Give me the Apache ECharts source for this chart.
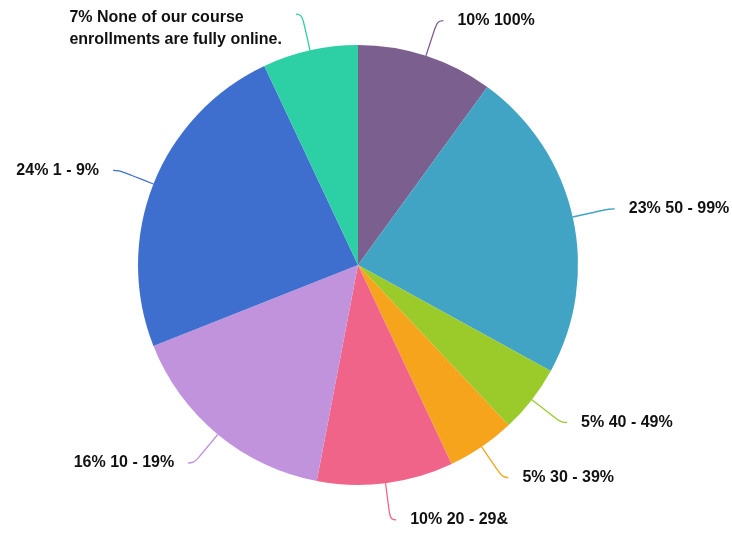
<!DOCTYPE html>
<html>
<head>
<meta charset="utf-8">
<script src="https://cdn.jsdelivr.net/npm/echarts@6/dist/echarts.min.js"></script>
<style>
  html, body { margin: 0; padding: 0; background: #fff; }
  #chart { width: 732px; height: 535px; }
</style>
</head>
<body>
<div id="chart"></div>
<script>
// Share of course enrollments that are fully online
const categories = [
  '100%',
  '50 - 99%',
  '40 - 49%',
  '30 - 39%',
  '20 - 29&',
  '10 - 19%',
  '1 - 9%',
  'None of our course\nenrollments are fully online.'
];
const shares = [10, 23, 5, 5, 10, 16, 24, 7];
const colors = ['#7b5f8f', '#41a4c4', '#9acb2a', '#f5a41c', '#f0648a', '#c093dc', '#3f6fce', '#2dcfa5'];

const chart = echarts.init(document.getElementById('chart'), null, { renderer: 'canvas' });

const data = categories.map((name, i) => {
  const item = { name: name, value: shares[i] };
  // two-line label: pad the top so its first line sits just below the leader end
  if (name.indexOf('\n') >= 0) {
    item.label = { padding: [28, 0, 0, 0] };
  }
  return item;
});

chart.setOption({
  animation: false,
  color: colors,
  series: [{
    type: 'pie',
    center: [358, 265],
    radius: 220,
    startAngle: 90,
    clockwise: true,
    avoidLabelOverlap: false,
    data: data,
    label: {
      show: true,
      position: 'outside',
      distanceToLabelLine: 14,
      formatter: function (p) {
        const lines = (p.value + '% ' + p.name).split('\n');
        return lines.map(l => '{t|' + l + '}').join('\n');
      },
      rich: {
        t: {
          fontFamily: 'Liberation Sans, Arial, sans-serif',
          fontSize: 16,
          fontWeight: 'bold',
          color: '#111',
          lineHeight: 22,
          align: 'left'
        }
      }
    },
    labelLine: {
      show: true,
      length: 37,
      length2: 6,
      smooth: 0.5,
      lineStyle: { width: 1.3 }
    },
    itemStyle: { borderWidth: 0 },
    emphasis: { disabled: true }
  }]
});
</script>
</body>
</html>
